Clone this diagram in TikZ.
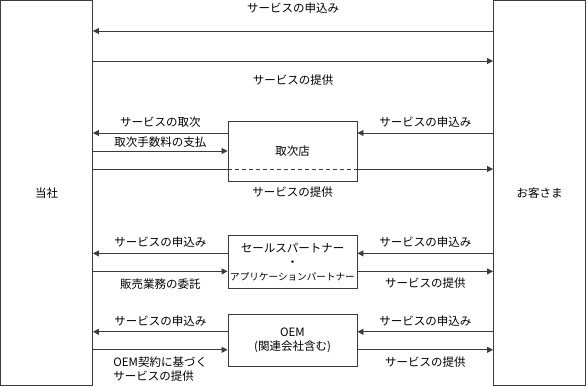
\documentclass[tikz,border=0pt]{standalone}
\usepackage{fontspec}
\setmainfont{Noto Sans CJK JP}
\usepackage{tikz}
\usetikzlibrary{positioning,arrows.meta}
\definecolor{linegray}{RGB}{60,60,60}

\begin{document}
\begin{tikzpicture}[
      x=1pt, y=-1pt, node distance=25pt,
      font=\fontsize{11.5}{14}\selectfont,
      party/.style={draw=linegray, line width=0.9pt, minimum width=92pt,
                    minimum height=385pt, inner sep=0pt},
      agent/.style={draw=linegray, line width=0.9pt, minimum width=129pt,
                    align=center, inner sep=1pt},
      arr/.style={-{Triangle[length=6pt,width=6pt]}, line width=0.9pt, draw=linegray},
      plain/.style={line width=0.9pt, draw=linegray},
      lbl/.style={inner sep=0pt}
    ]
    \useasboundingbox (0,0) rectangle (587,387);
    \node[party] (tosha) at (46.5,193) {当社};
    \node[party] (kyaku) at (539.5,193) {お客さま};
    \node[agent, minimum height=60pt] (toritsugi) at (292.5,151) {取次店};
    \node[agent, minimum height=53pt, below=54pt of toritsugi] (partner)
         {\fontsize{11.5}{13}\selectfont セールスパートナー\\・\\
          {\fontsize{9.6}{13}\selectfont アプリケーションパートナー}};
    \node[agent, minimum height=52pt, below=of partner] (oem)
         {\fontsize{11.5}{15}\selectfont OEM\\(関連会社含む)};
    \coordinate (apply) at (0,31);
    \coordinate (serve) at (0,61);
    % direct path
    \draw[arr] (kyaku.west |- apply) -- node[lbl, above=17pt]{サービスの申込み} (tosha.east |- apply);
    \draw[arr] (tosha.east |- serve) -- node[lbl, below=13pt]{サービスの提供} (kyaku.west |- serve);
    % via the agent
    \draw[arr] ([yshift=18pt]toritsugi.west) -- node[lbl, above=5pt]{サービスの取次}
               ([yshift=18pt]toritsugi.west -| tosha.east);
    \draw[arr] (tosha.east |- toritsugi.west) -- node[lbl, above=3pt]{取次手数料の支払} (toritsugi.west);
    \draw[arr] ([yshift=18pt]toritsugi.east -| kyaku.west) -- node[lbl, above=5pt]{サービスの申込み}
               ([yshift=18pt]toritsugi.east);
    \draw[plain] ([yshift=-18pt]toritsugi.west -| tosha.east) -- ([yshift=-18pt]toritsugi.west);
    \draw[plain, dash pattern=on 4pt off 3pt] ([yshift=-18pt]toritsugi.west)
               -- node[lbl, below=17pt]{サービスの提供} ([yshift=-18pt]toritsugi.east);
    \draw[arr] ([yshift=-18pt]toritsugi.east) -- ([yshift=-18pt]toritsugi.east -| kyaku.west);
    % sales / application partners
    \draw[arr] ([yshift=9pt]partner.west) -- node[lbl, above=6pt]{サービスの申込み}
               ([yshift=9pt]partner.west -| tosha.east);
    \draw[arr] ([yshift=-9pt]partner.west -| tosha.east) -- node[lbl, below=7pt]{販売業務の委託}
               ([yshift=-9pt]partner.west);
    \draw[arr] ([yshift=9pt]partner.east -| kyaku.west) -- node[lbl, above=6pt]{サービスの申込み}
               ([yshift=9pt]partner.east);
    \draw[arr] ([yshift=-9pt]partner.east) -- node[lbl, below=6pt]{サービスの提供}
               ([yshift=-9pt]partner.east -| kyaku.west);
    % OEM
    \draw[arr] ([yshift=9pt]oem.west) -- node[lbl, above=5pt]{サービスの申込み}
               ([yshift=9pt]oem.west -| tosha.east);
    \draw[arr] ([yshift=-9pt]oem.west -| tosha.east) -- node[lbl, below=7pt, align=left]
               {OEM契約に基づく\\サービスの提供} ([yshift=-9pt]oem.west);
    \draw[arr] ([yshift=9pt]oem.east -| kyaku.west) -- node[lbl, above=5pt]{サービスの申込み}
               ([yshift=9pt]oem.east);
    \draw[arr] ([yshift=-9pt]oem.east) -- node[lbl, below=7pt]{サービスの提供}
               ([yshift=-9pt]oem.east -| kyaku.west);
  \end{tikzpicture}
\end{document}
